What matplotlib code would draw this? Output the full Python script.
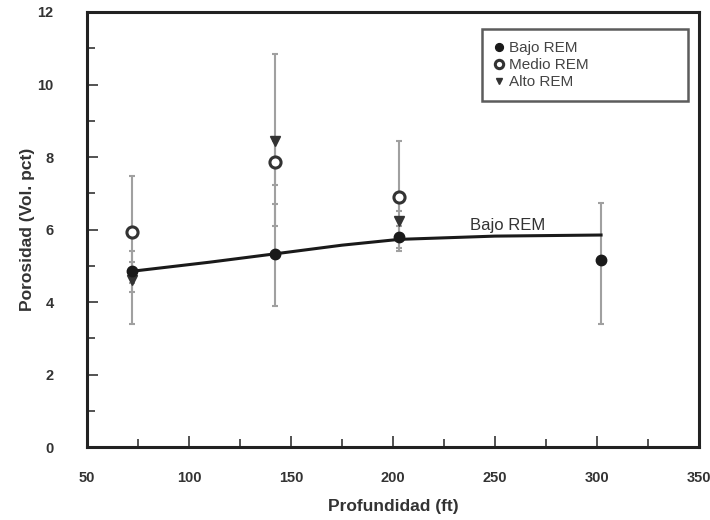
import numpy as np
import matplotlib
matplotlib.use('Agg')
import matplotlib.pyplot as plt
from matplotlib.ticker import MultipleLocator

plt.rcParams['font.family'] = ['Liberation Sans', 'DejaVu Sans']

# --- Data ---
bajo_x = [72, 142, 203, 302]
bajo_y = [4.85, 5.33, 5.8, 5.15]
bajo_lo = [4.27, 3.9, 5.5, 3.4]
bajo_hi = [5.4, 6.7, 6.1, 6.73]

medio_x = [72, 142, 203]
medio_y = [5.92, 7.85, 6.9]
medio_lo = [4.53, 7.22, 6.5]
medio_hi = [7.48, 8.45, 8.45]

alto_x = [72, 142, 203]
alto_y = [4.6, 8.45, 6.25]
alto_lo = [3.4, 6.1, 5.4]
alto_hi = [5.1, 10.85, 7.0]

# fitted trend for Bajo REM
fit_x = [72, 110, 142, 175, 203, 250, 302]
fit_y = [4.85, 5.1, 5.33, 5.57, 5.73, 5.82, 5.85]

fig = plt.figure(figsize=(7.1, 5.2), dpi=100)
ax = fig.add_axes([0.1225, 0.14, 0.862, 0.837])

ecol = '#a0a0a0'
for xs, ys, lo, hi in [(alto_x, alto_y, alto_lo, alto_hi),
                       (medio_x, medio_y, medio_lo, medio_hi),
                       (bajo_x, bajo_y, bajo_lo, bajo_hi)]:
    ys = np.array(ys)
    err = [ys - np.array(lo), np.array(hi) - ys]
    ax.errorbar(xs, ys, yerr=err, fmt='none', ecolor=ecol, elinewidth=1.5,
                capsize=2.5, capthick=1.5, zorder=2)

ax.plot(fit_x, fit_y, color='#1a1a1a', lw=2.2, zorder=3)

ax.plot(alto_x, alto_y, linestyle='none', marker='v', ms=6.5, color='#333333',
        zorder=4, label='Alto REM')
ax.plot(medio_x, medio_y, linestyle='none', marker='o', ms=8, mfc='white',
        mec='#333333', mew=2.2, zorder=5, label='Medio REM')
ax.plot(bajo_x, bajo_y, linestyle='none', marker='o', ms=7.5, color='#1a1a1a',
        zorder=6, label='Bajo REM')

ax.text(256, 6.1, 'Bajo REM', ha='center', va='center', fontsize=12,
        color='#333333')

ax.set_xlim(50, 350)
ax.set_ylim(0, 12)
ax.xaxis.set_major_locator(MultipleLocator(50))
ax.xaxis.set_minor_locator(MultipleLocator(25))
ax.yaxis.set_major_locator(MultipleLocator(2))
ax.yaxis.set_minor_locator(MultipleLocator(1))
ax.tick_params(which='both', direction='in', top=False, right=False,
               color='#444444', width=1.3)
ax.tick_params(which='major', length=8)
ax.tick_params(which='minor', length=6)
ax.tick_params(axis='x', which='major', pad=17, labelsize=10.5, labelcolor='#333333')
ax.tick_params(axis='y', which='major', pad=24, labelsize=10.5, labelcolor='#333333')
for lab in ax.get_xticklabels() + ax.get_yticklabels():
    lab.set_fontweight('bold')
for sp in ax.spines.values():
    sp.set_linewidth(2.2)
    sp.set_color('#222222')

ax.set_xlabel('Profundidad (ft)', fontsize=12.5, fontweight='bold',
              color='#333333', labelpad=10)
ax.set_ylabel('Porosidad (Vol. pct)', fontsize=12.5, fontweight='bold',
              color='#333333', labelpad=2)

handles, labels = ax.get_legend_handles_labels()
order = [2, 1, 0]
leg = ax.legend([handles[i] for i in order], [labels[i] for i in order],
                loc='upper left', bbox_to_anchor=(0.645, 0.5, 0.337, 0.461),
                mode='expand', fontsize=11, frameon=True, fancybox=False,
                handlelength=0.6, handletextpad=0.4, labelspacing=0.2,
                borderpad=0.8, markerscale=0.75, borderaxespad=0)
leg.get_frame().set_edgecolor('#333333')
leg.get_frame().set_linewidth(1.8)
for t in leg.get_texts():
    t.set_color('#444444')

fig.savefig('out.png', dpi=100)
